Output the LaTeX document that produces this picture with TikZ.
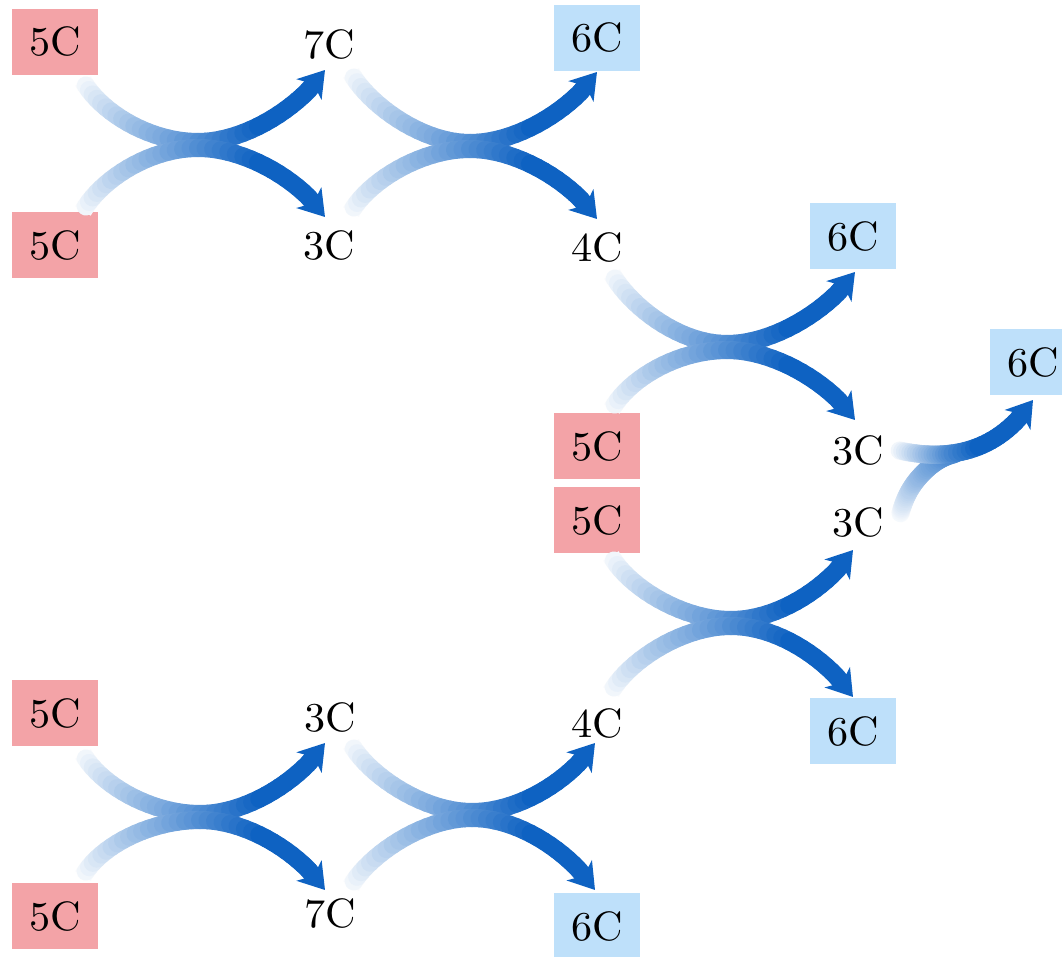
\documentclass[tikz,border=0pt]{standalone}
\usepackage{fontspec}
\usepackage{graphicx}
\usetikzlibrary{arrows.meta}
\newfontfamily\labfam{lmroman10-regular.otf}
\definecolor{arrowblue}{RGB}{14,98,194}
\definecolor{boxred}{RGB}{243,163,167}
\definecolor{boxblue}{RGB}{190,224,250}
\tikzset{
  lbl/.style={font=\labfam\fontsize{41}{45}\selectfont, inner sep=0pt},
  redbox/.style={lbl, fill=boxred, minimum width=86pt, minimum height=66pt},
  bluebox/.style={lbl, fill=boxblue, minimum width=86pt, minimum height=66pt},
  plain/.style={lbl},
  seg/.style={line width=18pt, line cap=round},
}
\newcommand\lab[1]{\scalebox{1.03}[1]{#1}}
% gradient arrow made of two cubic pieces
\newcommand\gradarrow[9]{%
  \foreach \i in {0,...,20}{%
    \pgfmathsetmacro\tpos{\i/20}%
    \path #1 .. controls #2 and #3 .. #4 coordinate[pos=\tpos] (ga\i);
    \path #4 .. controls #5 and #6 .. #7 coordinate[pos=\tpos] (gb\i);
  }%
  \foreach \i in {0,...,19}{%
    \pgfmathtruncatemacro\gnext{\i+1}%
    \pgfmathtruncatemacro\gcol{min(100,3+97*\i/#8)}%
    \ifnum\i=0
      \draw[seg, line cap=butt, draw=arrowblue!\gcol!white] (ga\i) -- (ga\gnext);
    \else
      \draw[seg, draw=arrowblue!\gcol!white] (ga\i) -- (ga\gnext);
    \fi
  }%
  \ifnum#9=1 \def\gmax{15}\else\def\gmax{19}\fi
  \foreach \i in {0,...,\gmax}{%
    \pgfmathtruncatemacro\gnext{\i+1}%
    \pgfmathtruncatemacro\gcol{min(100,3+97*(\i+20)/#8)}%
    \draw[seg, draw=arrowblue!\gcol!white] (gb\i) -- (gb\gnext);
  }%
  \ifnum#9=1 \draw[line width=18pt, draw=arrowblue, fill=arrowblue,
     -{Stealth[length=25pt,width=32pt,inset=7pt]}] (gb16) -- (gb20);\fi
}
% a crossing pair: xs, xm, xe, upper (ys, ym, ye), lower (ys, ym, ye)
\newcommand\xpair[9]{%
  \gradarrow{(#1,#4)}{({#1+17},{#4+30})}{({#2-50},#5)}{(#2,#5)}{({#2+50},#5)}{({#3-22},{#6+34})}{(#3,#6)}{28}{1}%
  \gradarrow{(#1,#7)}{({#1+17},{#7-30})}{({#2-50},#8)}{(#2,#8)}{({#2+50},#8)}{({#3-22},{#9-34})}{(#3,#9)}{28}{1}%
}
\begin{document}
\begin{tikzpicture}[x=1pt,y=-1pt]
\fill[white] (0,0) rectangle (1062,957);
\clip (0,0) rectangle (1062,957);
% nodes
\node[redbox] (a1) at (55,42) {\lab{5C}};
\node[redbox] (a2) at (55,245) {\lab{5C}};
\node[plain] (b1) at (329,45) {\lab{7C}};
\node[plain] (b2) at (329,245) {\lab{3C}};
\node[bluebox] (c1) at (597,38) {\lab{6C}};
\node[plain] (c2) at (597,247) {\lab{4C}};
\node[bluebox] (d1) at (853,236) {\lab{6C}};
\node[plain] (d2) at (858,450) {\lab{3C}};
\node[bluebox] (e1) at (1033,362) {\lab{6C}};
\node[redbox] (f1) at (597,446) {\lab{5C}};
\node[redbox] (f2) at (597,520) {\lab{5C}};
\node[plain] (g1) at (858,522) {\lab{3C}};
\node[bluebox] (g2) at (853,731) {\lab{6C}};
\node[plain] (h1) at (597,723) {\lab{4C}};
\node[redbox] (i1) at (55,713) {\lab{5C}};
\node[redbox] (i2) at (55,916) {\lab{5C}};
\node[plain] (j1) at (330,717) {\lab{3C}};
\node[plain] (j2) at (330,913) {\lab{7C}};
\node[bluebox] (k1) at (597,926) {\lab{6C}};
% crossings
\xpair{83}{198}{325}{81}{142}{70}{211}{148}{217}
\xpair{351}{470}{597}{73}{143}{72}{212}{149}{219}
\xpair{612}{727}{855}{274}{344}{272}{409}{350}{420}
\xpair{611}{731}{853}{556}{620}{550}{692}{626}{697}
\xpair{83}{200}{325}{754}{814}{743}{876}{820}{890}
\xpair{351}{472}{595}{744}{812}{743}{886}{818}{890}
% merge of the two 3C into 6C
\gradarrow{(900,515)}{(903,503)}{(908,491)}{(916,481)}{(924,471)}{(937,458)}{(955,454)}{52}{0}
\gradarrow{(897,450)}{(914.2,454)}{(933.3,456.1)}{(952.5,453.4)}{(981.3,449.4)}{(1010.2,434.8)}{(1033,400)}{26}{1}
\end{tikzpicture}
\end{document}
